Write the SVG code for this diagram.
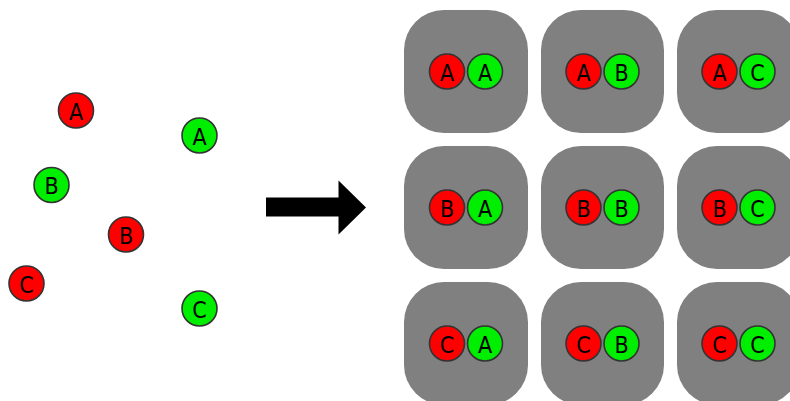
<svg xmlns="http://www.w3.org/2000/svg" width="790" height="401" viewBox="0 0 790 401">
  <style>
    .tok { stroke: #333333; stroke-width: 1.6; }
    .red { fill: #ff0000; }
    .green { fill: #00ee00; }
    .lbl { font-family: "DejaVu Sans", "Liberation Sans", sans-serif; font-stretch: condensed; font-size: 23px; fill: #000000; text-anchor: middle; }
    .pair { fill: #808080; }
  </style>
  <rect width="790" height="401" fill="#ffffff"/>

  <!-- loose tokens -->
  <g id="redA"><circle class="tok red" cx="76" cy="110.5" r="17.5"/><text class="lbl" x="76" y="119.5">A</text></g>
  <g id="greenA"><circle class="tok green" cx="199.5" cy="135.5" r="17.5"/><text class="lbl" x="199.5" y="144.5">A</text></g>
  <g id="greenB"><circle class="tok green" cx="51.5" cy="185" r="17.5"/><text class="lbl" x="51.5" y="194">B</text></g>
  <g id="redB"><circle class="tok red" cx="126" cy="234.5" r="17.5"/><text class="lbl" x="126" y="243.5">B</text></g>
  <g id="redC"><circle class="tok red" cx="26.5" cy="283.5" r="17.5"/><text class="lbl" x="26.5" y="292.5">C</text></g>
  <g id="greenC"><circle class="tok green" cx="199.5" cy="308.5" r="17.5"/><text class="lbl" x="199.5" y="317.5">C</text></g>

  <!-- arrow -->
  <g id="connectors">
    <polygon points="266,197.5 338.5,197.5 338.5,180.5 366,207.5 338.5,234.5 338.5,216.5 266,216.5" fill="#000000"/>
  </g>

  <!-- pair grid: rows red A/B/C, columns green A/B/C -->
  <g id="pairAA"><rect class="pair" x="404" y="10" width="124" height="123" rx="40"/>
    <circle class="tok red" cx="447" cy="71.5" r="17.5"/><text class="lbl" x="447" y="80.5">A</text>
    <circle class="tok green" cx="485" cy="71.5" r="17.5"/><text class="lbl" x="485" y="80.5">A</text></g>
  <g id="pairAB"><rect class="pair" x="541" y="10" width="123" height="123" rx="40"/>
    <circle class="tok red" cx="583.5" cy="71.5" r="17.5"/><text class="lbl" x="583.5" y="80.5">A</text>
    <circle class="tok green" cx="621.5" cy="71.5" r="17.5"/><text class="lbl" x="621.5" y="80.5">B</text></g>
  <g id="pairAC"><rect class="pair" x="677" y="10" width="123" height="123" rx="40"/>
    <circle class="tok red" cx="719.5" cy="71.5" r="17.5"/><text class="lbl" x="719.5" y="80.5">A</text>
    <circle class="tok green" cx="757.5" cy="71.5" r="17.5"/><text class="lbl" x="757.5" y="80.5">C</text></g>

  <g id="pairBA"><rect class="pair" x="404" y="146" width="124" height="123" rx="40"/>
    <circle class="tok red" cx="447" cy="207.5" r="17.5"/><text class="lbl" x="447" y="216.5">B</text>
    <circle class="tok green" cx="485" cy="207.5" r="17.5"/><text class="lbl" x="485" y="216.5">A</text></g>
  <g id="pairBB"><rect class="pair" x="541" y="146" width="123" height="123" rx="40"/>
    <circle class="tok red" cx="583.5" cy="207.5" r="17.5"/><text class="lbl" x="583.5" y="216.5">B</text>
    <circle class="tok green" cx="621.5" cy="207.5" r="17.5"/><text class="lbl" x="621.5" y="216.5">B</text></g>
  <g id="pairBC"><rect class="pair" x="677" y="146" width="123" height="123" rx="40"/>
    <circle class="tok red" cx="719.5" cy="207.5" r="17.5"/><text class="lbl" x="719.5" y="216.5">B</text>
    <circle class="tok green" cx="757.5" cy="207.5" r="17.5"/><text class="lbl" x="757.5" y="216.5">C</text></g>

  <g id="pairCA"><rect class="pair" x="404" y="282" width="124" height="123" rx="40"/>
    <circle class="tok red" cx="447" cy="343.5" r="17.5"/><text class="lbl" x="447" y="352.5">C</text>
    <circle class="tok green" cx="485" cy="343.5" r="17.5"/><text class="lbl" x="485" y="352.5">A</text></g>
  <g id="pairCB"><rect class="pair" x="541" y="282" width="123" height="123" rx="40"/>
    <circle class="tok red" cx="583.5" cy="343.5" r="17.5"/><text class="lbl" x="583.5" y="352.5">C</text>
    <circle class="tok green" cx="621.5" cy="343.5" r="17.5"/><text class="lbl" x="621.5" y="352.5">B</text></g>
  <g id="pairCC"><rect class="pair" x="677" y="282" width="123" height="123" rx="40"/>
    <circle class="tok red" cx="719.5" cy="343.5" r="17.5"/><text class="lbl" x="719.5" y="352.5">C</text>
    <circle class="tok green" cx="757.5" cy="343.5" r="17.5"/><text class="lbl" x="757.5" y="352.5">C</text></g>
</svg>
